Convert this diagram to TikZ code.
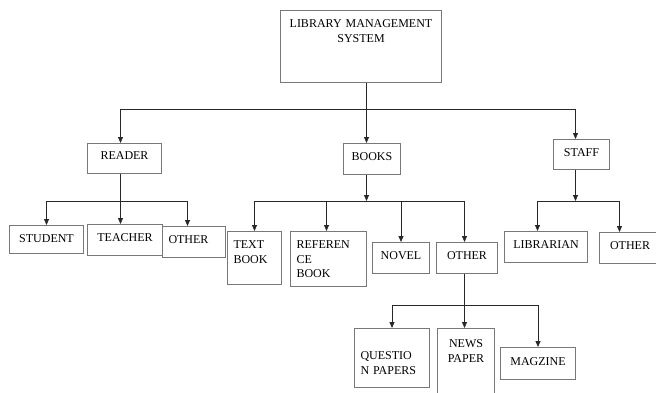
\documentclass[tikz,border=0pt]{standalone}
\usepackage{fontspec}
\setmainfont{Liberation Serif}
\usetikzlibrary{arrows.meta}
\definecolor{boxgray}{RGB}{120,120,120}
\definecolor{linegray}{RGB}{40,40,40}

\begin{document}
\begin{tikzpicture}[x=1pt,y=-1pt,font=\fontsize{12}{14.5}\selectfont,
  >={Triangle[width=5pt,length=6pt]},
  b/.style={draw=boxgray,line width=1pt,anchor=north west,inner xsep=6pt,inner ysep=0pt,align=center},
  bl/.style={b,align=left},
  sz/.style n args={3}{text width=#1,text height=#2,text depth=#3},
  c/.style={draw=linegray,line width=0.8pt}]
\useasboundingbox (0,0) rectangle (656,392);
% top level
\node[b,sz={149pt}{17pt}{55pt}] (lms) at (280,10) {LIBRARY MANAGEMENT\\SYSTEM};
\node[b,sz={62pt}{16pt}{14pt}] (rdr) at (87,143) {READER};
\node[b,sz={45pt}{17pt}{14pt}] (bks) at (343,143) {BOOKS};
\node[b,sz={44pt}{17pt}{13pt}] (stf) at (553,139) {STAFF};
% readers
\node[b,sz={62pt}{17pt}{11pt}] (stu) at (9,225) {STUDENT};
\node[b,sz={63pt}{17pt}{14pt}] (tch) at (87,224) {TEACHER};
\node[bl,sz={51pt}{17pt}{14pt}] (oth1) at (162,226) {OTHER};
% books
\node[bl,sz={42pt}{17pt}{36pt}] (txt) at (227,231) {TEXT\\BOOK};
\node[bl,sz={64pt}{17pt}{38pt}] (ref) at (290,231) {REFEREN\\CE\\BOOK};
\node[b,sz={45pt}{17pt}{14pt}] (nov) at (372,242) {NOVEL};
\node[b,sz={49pt}{17pt}{14pt}] (oth2) at (436,242) {OTHER};
% other books
\node[bl,sz={63pt}{31pt}{28pt}] (qp) at (354,328) {QUESTIO\\N PAPERS};
\node[b,sz={45pt}{19pt}{49pt}] (np) at (437,328) {NEWS\\PAPER};
\node[b,sz={63pt}{18pt}{14pt}] (mag) at (500,347) {MAGZINE};
% staff
\node[b,sz={71pt}{17pt}{14pt}] (lib) at (504,231) {LIBRARIAN};
\node[b,sz={49pt}{17pt}{14pt}] (oth3) at (599,232) {OTHER};

\draw[c] ([xshift=5.5pt]lms.south) -- ++(0,26) coordinate (j0);
\draw[c,->] (j0) -| ([xshift=-4pt]rdr.north);
\draw[c,->] (j0) -- (j0 |- bks.north);
\draw[c,->] (j0) -| ([xshift=-6pt]stf.north);

\draw[c] ([xshift=-4pt]rdr.south) -- ++(0,27) coordinate (j1);
\draw[c,->] (j1) -- (j1 |- tch.north);
\draw[c,->] (j1) -| (stu.north);
\draw[c,->] (j1) -| ([xshift=-6.5pt]oth1.north);

\draw[c,->] ([xshift=-5.5pt]bks.south) -- ++(0,26) coordinate (j2);
\draw[c,->] (j2) -| (txt.north);
\draw[c,->] (j2) -| ([xshift=-2pt]ref.north);
\draw[c,->] (j2) -| (nov.north);
\draw[c,->] (j2) -| ([xshift=-2.5pt]oth2.north);

\draw[c] ([xshift=-2.5pt]oth2.south) -- ++(0,31) coordinate (j3);
\draw[c,->] (j3) -- (j3 |- np.north);
\draw[c,->] (j3) -| (qp.north);
\draw[c,->] (j3) -| (mag.north);

\draw[c,->] ([xshift=-6pt]stf.south) -- ++(0,31) coordinate (j4);
\draw[c,->] (j4) -| ([xshift=-8.5pt]lib.north);
\draw[c,->] (j4) -| ([xshift=-10.5pt]oth3.north);
\end{tikzpicture}
\end{document}
